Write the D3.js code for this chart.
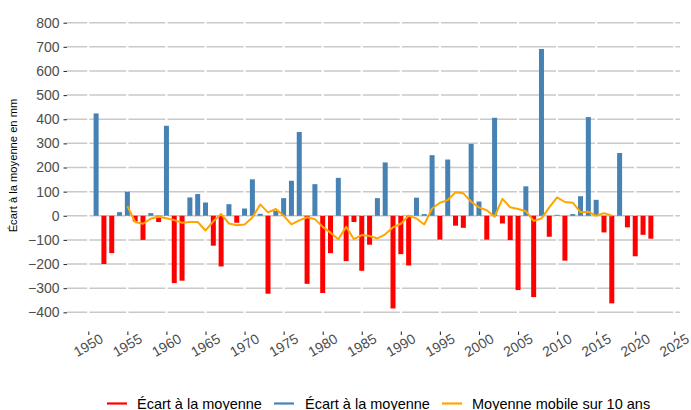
<!DOCTYPE html>
<html><head><meta charset="utf-8">
<script src="https://cdn.jsdelivr.net/npm/d3@7"></script>
<style>body{margin:0;background:#fff}svg{display:block}text{font-family:"Liberation Sans",Arial,sans-serif}</style>
</head><body><svg id="c" width="691" height="410"></svg>
<script>
const years = d3.range(1951, 2023);
const ecart = [424,-200,-155,15,100,-23,-100,11,-26,373,-279,-269,76,90,55,-124,-210,48,-29,30,151,8,-323,21,73,145,347,-282,131,-320,-155,157,-188,-26,-228,-120,73,221,-384,-159,-206,75,7,251,-99,233,-41,-50,298,59,-99,406,-32,-101,-308,122,-337,691,-87,4,-186,7,81,409,66,-69,-363,260,-48,-168,-79,-95];
const maYears = d3.range(1955, 2018);
const maValues = [40,-26,-33,-12,-4,-10,-18,-29,-26,-26,-61,-23,7,-32,-39,-36,-7,47,14,28,0,-36,-19,-6,-14,-46,-70,-97,-46,-97,-80,-84,-94,-77,-48,-33,0,-11,-36,30,54,65,97,93,58,35,23,-4,70,35,28,19,-21,-11,35,76,57,54,15,17,0,11,0];
const yTicks = d3.range(-400, 801, 100);
const xTicks = d3.range(1950, 2026, 5);
const legendLabels = ["Écart à la moyenne","Écart à la moyenne","Moyenne mobile sur 10 ans"];
const yTitle = "Écart à la moyenne en mm";

const svg = d3.select("#c");
const x = d3.scaleLinear().domain([1950, 2025]).range([88.3, 674.3]);
const y = d3.scaleLinear().domain([-400, 800]).range([312.3, 22.7]);
const panelL = 67, panelR = 680;

// horizontal grid
svg.append("g").selectAll("line").data(yTicks).join("line")
  .attr("x1", panelL).attr("x2", panelR)
  .attr("y1", d => y(d)).attr("y2", d => y(d))
  .attr("stroke", "#c9c9c9").attr("stroke-width", 1.5);
// vertical white grid
svg.append("g").selectAll("line").data(xTicks).join("line")
  .attr("x1", d => x(d)).attr("x2", d => x(d))
  .attr("y1", 10).attr("y2", 330)
  .attr("stroke", "#fff").attr("stroke-width", 2.2);

// bars
const bw = 5;
svg.append("g").selectAll("rect").data(years.map((yr, i) => ({yr, v: ecart[i]}))).join("rect")
  .attr("x", d => x(d.yr) - bw / 2).attr("width", bw)
  .attr("y", d => y(Math.max(0, d.v)))
  .attr("height", d => Math.abs(y(d.v) - y(0)))
  .attr("fill", d => d.v < 0 ? "#FF0000" : "#4682B4");

// moving average
const line = d3.line().x(d => x(d[0])).y(d => y(d[1]));
svg.append("path").datum(maYears.map((yr, i) => [yr, maValues[i]]))
  .attr("d", line).attr("fill", "none").attr("stroke", "#FFA500")
  .attr("stroke-width", 2).attr("stroke-linejoin", "round");

// y axis
const yAxis = d3.axisLeft(y).tickValues(yTicks).tickSize(3.5).tickPadding(4)
  .tickFormat(d => d < 0 ? "\u2212" + Math.abs(d) : String(d));
const gy = svg.append("g").attr("transform", `translate(${panelL},0)`).call(yAxis);
gy.select(".domain").remove();
gy.selectAll(".tick line").attr("stroke", "#333").attr("stroke-width", 1.1);
gy.selectAll(".tick text").attr("fill", "#4d4d4d").style("font-size", "14px");

// x axis
const xAxis = d3.axisBottom(x).tickValues(xTicks).tickSize(3.5).tickFormat(d3.format("d"));
const gx = svg.append("g").attr("transform", `translate(0,331.5)`).call(xAxis);
gx.select(".domain").remove();
gx.selectAll(".tick line").attr("stroke", "#333").attr("stroke-width", 1.1);
gx.selectAll(".tick text").attr("fill", "#4d4d4d").style("font-size", "14px")
  .attr("text-anchor", "middle").attr("y", 0).attr("dy", 0)
  .attr("transform", "translate(2,18) rotate(-30)");

// y title
svg.append("text").attr("transform", "translate(17,165.5) rotate(-90)")
  .attr("text-anchor", "middle").style("font-size", "11.2px").attr("fill", "#000").text(yTitle);

// legend
const legItems = [
  {color: "#FF0000", lx: 107, tx: 137},
  {color: "#4682B4", lx: 274, tx: 305},
  {color: "#FFA500", lx: 442, tx: 472}
];
const lg = svg.append("g");
legItems.forEach((it, i) => {
  lg.append("line").attr("x1", it.lx).attr("x2", it.lx + 20).attr("y1", 403.5).attr("y2", 403.5)
    .attr("stroke", it.color).attr("stroke-width", 2.2);
  lg.append("text").attr("x", it.tx).attr("y", 408.5).style("font-size", "14.5px").attr("fill", "#000").text(legendLabels[i]);
});
</script></body></html>
